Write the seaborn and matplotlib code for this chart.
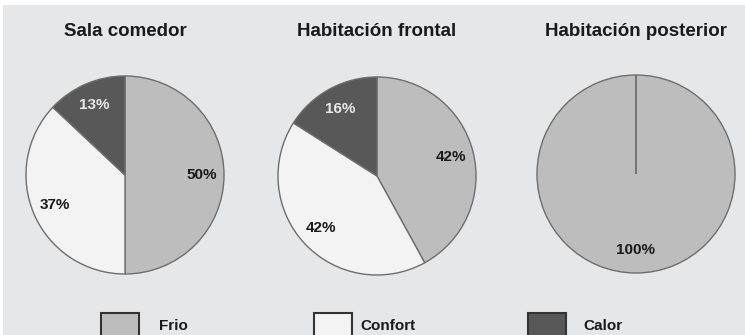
import matplotlib
matplotlib.use("Agg")
import matplotlib.pyplot as plt
from matplotlib.patches import Rectangle
import seaborn as sns

# Data
rooms = ['Sala comedor', 'Habitación frontal', 'Habitación posterior']
categories = ['Frio', 'Confort', 'Calor']
frio = [50, 42, 100]
confort = [37, 42, 0]
calor = [13, 16, 0]

colors = ['#bdbdbd', '#f3f3f3', '#585858']
label_colors = ['#1a1a1a', '#1a1a1a', '#e8e8e8']
bg = '#e6e7e9'

sns.set_style("white")
plt.rcParams['font.family'] = ['Liberation Sans', 'DejaVu Sans']

W, H = 745, 335
fig = plt.figure(figsize=(W / 100, H / 100), dpi=100, facecolor='white')
# grey panel behind everything (thin white margin at top/left)
fig.patches.append(Rectangle((3 / W, 0), 1, 1 - 5 / H, transform=fig.transFigure,
                             facecolor=bg, edgecolor='none', zorder=-10))

centers = [(125, 175), (377, 176), (636, 174)]
radius = 100  # pixels

for i, room in enumerate(rooms):
    cx, cy = centers[i]
    ax = fig.add_axes([(cx - radius) / W, (H - cy - radius) / H, 2 * radius / W, 2 * radius / H])
    vals = [frio[i], confort[i], calor[i]]
    wedges, texts, autotexts = ax.pie(
        vals, colors=colors, startangle=90, counterclock=False,
        autopct=lambda p: f'{p:.0f}%' if p > 0 else '',
        pctdistance=0.77,
        wedgeprops=dict(edgecolor='#6e6e6e', linewidth=1.0),
        textprops=dict(fontsize=11, fontweight='bold'))
    for t, c in zip(autotexts, label_colors):
        t.set_color(c)
    ax.set_xlim(-1.01, 1.01)
    ax.set_ylim(-1.01, 1.01)
    ax.set_aspect('equal')
    ax.axis('off')
    fig.text(cx / W, 1 - 31 / H, room, ha='center', va='center',
             fontsize=13.5, fontweight='bold', color='#1a1a1a')

# legend along the bottom
patch_x = [101, 314, 528]
text_x = [159, 360, 583]
for cat, col, px, tx in zip(categories, colors, patch_x, text_x):
    fig.patches.append(Rectangle((px / W, -20 / H), 38 / W, (H - 313 + 20) / H,
                                 transform=fig.transFigure, facecolor=col,
                                 edgecolor='#333333', linewidth=1.5))
    fig.text(tx / W, 1 - 326 / H, cat, ha='left', va='center',
             fontsize=11, fontweight='bold', color='#1a1a1a')

fig.savefig('out.png', dpi=100, facecolor=fig.get_facecolor())
